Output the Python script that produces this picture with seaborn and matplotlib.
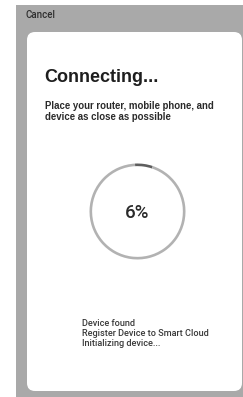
import matplotlib
matplotlib.use("Agg")
import matplotlib.pyplot as plt
from matplotlib.patches import Rectangle, FancyBboxPatch
import seaborn as sns

# screen content
cancel_label = "Cancel"
title = "Connecting..."
hint_lines = ["Place your router, mobile phone, and", "device as close as possible"]
progress_pct = 6
progress_parts = [progress_pct, 100 - progress_pct]
status_lines = ["Device found", "Register Device to Smart Cloud", "Initializing device..."]

W, H = 243, 397
sns.set_theme(style="white")
plt.rcParams["font.family"] = ["Liberation Sans", "DejaVu Sans"]

fig = plt.figure(figsize=(W / 100, H / 100), dpi=100)
fig.patch.set_facecolor("white")

ax = fig.add_axes([0, 0, 1, 1])
ax.set_xlim(0, W)
ax.set_ylim(H, 0)
ax.axis("off")

# gray backdrop and white card
ax.add_patch(Rectangle((16, 5), W - 16, H - 5, facecolor="#a9a9a9", edgecolor="none"))
ax.add_patch(FancyBboxPatch((27, 32), 215, 359,
                            boxstyle="round,pad=0,rounding_size=8",
                            facecolor="white", edgecolor="none"))

ax.text(25, 15, cancel_label, fontsize=7, fontfamily=["Roboto", "DejaVu Sans"],
        fontweight="medium", color="#2e2e2e", va="center", ha="left")
ax.text(44, 78, title, fontsize=13, fontweight="bold", color="#1e1e1e",
        va="center", ha="left")
for i, line in enumerate(hint_lines):
    ax.text(45, 106 + i * 10.5, line, fontsize=6.9, fontweight="bold",
            color="#2a2a2a", va="center", ha="left")

for i, line in enumerate(status_lines):
    ax.text(82, 323 + i * 10.5, line, fontsize=6.6,
            fontfamily=["Roboto", "DejaVu Sans"], fontweight="medium",
            color="#3a3a3a", va="center", ha="left")

# progress ring
cx, cy, r = 137.5, 211.5, 48
ring = fig.add_axes([(cx - r) / W, (H - cy - r) / H, 2 * r / W, 2 * r / H])
ring.pie(progress_parts, colors=["#5e5e5e", "#b2b2b2"], startangle=93,
         counterclock=False, radius=1,
         wedgeprops=dict(width=0.055, edgecolor="none"))
ring.set_xlim(-1, 1)
ring.set_ylim(-1, 1)
ring.axis("off")

ax.text(cx, 213, f"{progress_pct}%", fontsize=13.5,
        fontfamily=["Roboto", "DejaVu Sans"], fontweight="medium",
        color="#2a2a2a", va="center", ha="center")

fig.savefig("out.png", dpi=100)
